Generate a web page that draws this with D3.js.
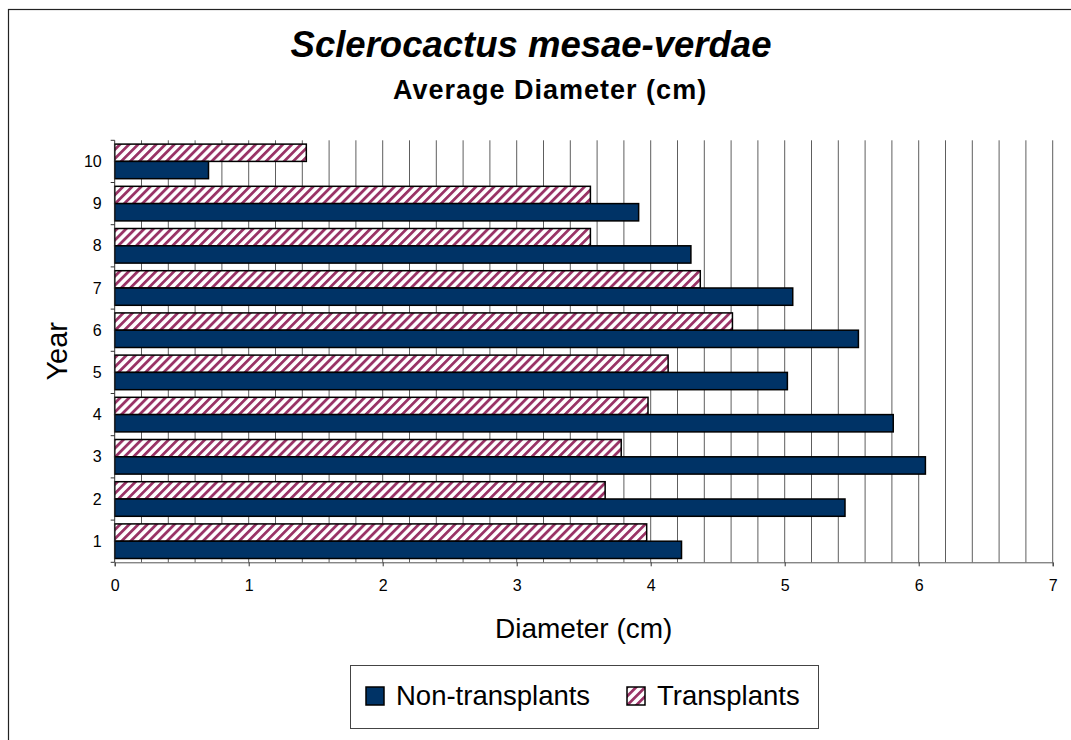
<!DOCTYPE html>
<head>
  <meta charset="utf-8">
  <title>Sclerocactus mesae-verdae</title>
  <script src="https://d3js.org/d3.v7.min.js"></script>
  <style>
    body { margin: 0; background: #fff; }
    text { font-family: "Liberation Sans", Arial, sans-serif; fill: #000; }
  </style>
</head>
<body>
<div id="chart"></div>
<script>
// data
var years = ["1", "2", "3", "4", "5", "6", "7", "8", "9", "10"];
var nonTransplants = [4.23, 5.45, 6.05, 5.81, 5.02, 5.55, 5.06, 4.30, 3.91, 0.70];
var transplants = [3.97, 3.66, 3.78, 3.98, 4.13, 4.61, 4.37, 3.55, 3.55, 1.43];
var seriesNames = ["Transplants", "Non-transplants"];
var xTicks = [0, 1, 2, 3, 4, 5, 6, 7];

var width = 1071, height = 740;
var plotLeft = 114.7, plotRight = 1052.7, plotTop = 140.3, plotBottom = 562.3;

var svg = d3.select("#chart").append("svg")
  .attr("width", width)
  .attr("height", height);

var defs = svg.append("defs");
var pat = defs.append("pattern")
  .attr("id", "hatch")
  .attr("patternUnits", "userSpaceOnUse")
  .attr("width", 6.4)
  .attr("height", 6.4)
  .attr("patternTransform", "rotate(45)");
pat.append("rect").attr("width", 6.4).attr("height", 6.4).attr("fill", "#fff");
pat.append("rect").attr("width", 2.8).attr("height", 6.4).attr("fill", "#993366");

// outer chart border (only top/left fall inside the picture)
svg.append("rect")
  .attr("x", 8.5).attr("y", 9.5)
  .attr("width", 1200).attr("height", 900)
  .attr("fill", "none").attr("stroke", "#222").attr("stroke-width", 1.2);

var x = d3.scaleLinear().domain([0, 7]).range([plotLeft, plotRight]);
var y = d3.scaleBand().domain(years.slice().reverse()).range([plotTop, plotBottom]);
var sub = d3.scaleBand().domain(seriesNames).range([0, y.bandwidth()]).paddingOuter(0.22);

// gridlines every 0.2
var grid = d3.range(1, 36).map(d => d * 0.2);
svg.append("g").selectAll("line")
  .data(grid)
  .enter().append("line")
  .attr("x1", d => x(d)).attr("x2", d => x(d))
  .attr("y1", plotTop).attr("y2", plotBottom)
  .attr("stroke", "#5e5e5e").attr("stroke-width", 1);

// bars
var rows = years.map((yr, i) => ({ year: yr, n: nonTransplants[i], t: transplants[i] }));
var g = svg.append("g");
g.selectAll(".tb").data(rows).enter().append("rect")
  .attr("x", x(0))
  .attr("y", d => y(d.year) + sub("Transplants"))
  .attr("width", d => x(d.t) - x(0))
  .attr("height", sub.bandwidth())
  .attr("fill", "url(#hatch)")
  .attr("stroke", "#000").attr("stroke-width", 1.5);
g.selectAll(".nb").data(rows).enter().append("rect")
  .attr("x", x(0))
  .attr("y", d => y(d.year) + sub("Non-transplants"))
  .attr("width", d => x(d.n) - x(0))
  .attr("height", sub.bandwidth())
  .attr("fill", "#003366")
  .attr("stroke", "#000").attr("stroke-width", 1.5);

// x axis
var xAxis = svg.append("g")
  .attr("transform", "translate(0," + plotBottom + ")")
  .call(d3.axisBottom(x).tickValues(xTicks).tickSize(4).tickPadding(13).tickFormat(d3.format("d")));
xAxis.select(".domain").attr("stroke", "#555");
xAxis.selectAll(".tick line").attr("stroke", "#333");
xAxis.selectAll("text").style("font-size", "16px").attr("fill", "#000");

// y axis: ticks at category boundaries
var yAxis = svg.append("g")
  .attr("transform", "translate(" + plotLeft + ",0)");
yAxis.append("line")
  .attr("y1", plotTop).attr("y2", plotBottom)
  .attr("stroke", "#333");
var bounds = y.domain().map(d => y(d)).concat([plotBottom]);
yAxis.selectAll(".bt").data(bounds).enter().append("line")
  .attr("x1", -4).attr("x2", 0)
  .attr("y1", d => d).attr("y2", d => d)
  .attr("stroke", "#333");
yAxis.selectAll(".lab").data(years).enter().append("text")
  .attr("x", -13)
  .attr("y", d => y(d) + y.bandwidth() / 2)
  .attr("dy", "0.35em")
  .attr("text-anchor", "end")
  .style("font-size", "16px")
  .text(d => d);

// titles
svg.append("text")
  .attr("x", 531).attr("y", 57)
  .attr("text-anchor", "middle")
  .style("font-size", "36.5px").style("font-weight", "bold").style("font-style", "italic")
  .text("Sclerocactus mesae-verdae");
svg.append("text")
  .attr("x", 393).attr("y", 99)
  .style("font-size", "27px").style("font-weight", "bold").style("letter-spacing", "1px")
  .text("Average Diameter (cm)");
svg.append("text")
  .attr("x", (plotLeft + plotRight) / 2).attr("y", 638)
  .attr("text-anchor", "middle")
  .style("font-size", "28px")
  .text("Diameter (cm)");
svg.append("text")
  .attr("transform", "translate(67," + ((plotTop + plotBottom) / 2) + ") rotate(-90)")
  .attr("text-anchor", "middle")
  .style("font-size", "29px")
  .text("Year");

// legend
var legend = svg.append("g");
legend.append("rect")
  .attr("x", 350.5).attr("y", 665.5)
  .attr("width", 468).attr("height", 63)
  .attr("fill", "#fff").attr("stroke", "#444").attr("stroke-width", 1);
var items = [
  { name: "Non-transplants", fill: "#003366", x: 366 },
  { name: "Transplants", fill: "url(#hatch)", x: 627 }
];
var li = legend.selectAll(".li").data(items).enter().append("g");
li.append("rect")
  .attr("x", d => d.x).attr("y", 687)
  .attr("width", 18).attr("height", 18)
  .attr("fill", d => d.fill)
  .attr("stroke", "#000").attr("stroke-width", 1.5);
li.append("text")
  .attr("x", d => d.x + 30).attr("y", 704.5)
  .style("font-size", "27.5px")
  .text(d => d.name);
</script>
</body>
</html>
